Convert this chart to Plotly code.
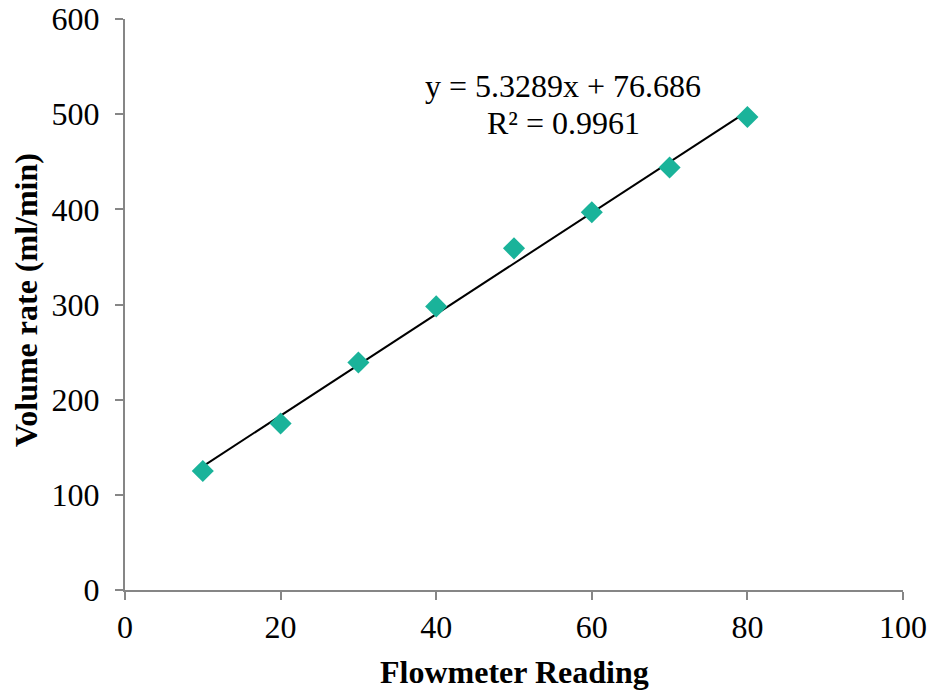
import numpy as np
import plotly.graph_objects as go

flow = [10, 20, 30, 40, 50, 60, 70, 80]
volume = [125, 175, 239, 298, 359, 397, 444, 497]
x_ticks = [0, 20, 40, 60, 80, 100]
y_ticks = [0, 100, 200, 300, 400, 500, 600]
slope, intercept = 5.3289, 76.686
eq_line1 = "y = 5.3289x + 76.686"
eq_line2 = "R² = 0.9961"

trend_x = [min(flow), max(flow)]
trend_y = [slope * v + intercept for v in trend_x]

fig = go.Figure()
fig.add_trace(go.Scatter(x=trend_x, y=trend_y, mode="lines",
                         line=dict(color="black", width=2), showlegend=False))
fig.add_trace(go.Scatter(x=flow, y=volume, mode="markers",
                         marker=dict(symbol="diamond", size=17, color="#1ab39a"),
                         showlegend=False))

font = "Liberation Serif, Times New Roman, serif"
FS = 32
axis_common = dict(showgrid=False, zeroline=False, showline=True, linecolor="#868686",
                   linewidth=2, ticks="outside", ticklen=8, tickcolor="#868686", tickwidth=2,
                   automargin=False,
                   tickfont=dict(family=font, size=FS, color="black"))
fig.update_xaxes(range=[0, 100], tickvals=x_ticks, **axis_common)
fig.update_yaxes(range=[0, 600], tickvals=y_ticks, ticklabelstandoff=9, **axis_common)

fig.add_annotation(x=0.5, y=-82 / 571, xref="paper", yref="paper", text="<b>Flowmeter Reading</b>",
                   showarrow=False, yanchor="middle", font=dict(family=font, size=FS, color="black"))
fig.add_annotation(x=-99 / 778, y=0.508, xref="paper", yref="paper", text="<b>Volume rate (ml/min)</b>",
                   showarrow=False, textangle=-90, xanchor="center", yanchor="middle",
                   font=dict(family=font, size=FS, color="black"))

fig.add_annotation(x=56.3, y=530, xref="x", yref="y", text=eq_line1, showarrow=False,
                   font=dict(family=font, size=FS, color="black"))
fig.add_annotation(x=56.4, y=491, xref="x", yref="y", text=eq_line2, showarrow=False,
                   font=dict(family=font, size=FS, color="black"))

fig.update_layout(width=933, height=695, plot_bgcolor="white", paper_bgcolor="white",
                  margin=dict(l=125, r=30, t=19, b=105))
fig.write_html("out.html", config={"displayModeBar": False},
               post_script="document.body.style.margin='0';")
